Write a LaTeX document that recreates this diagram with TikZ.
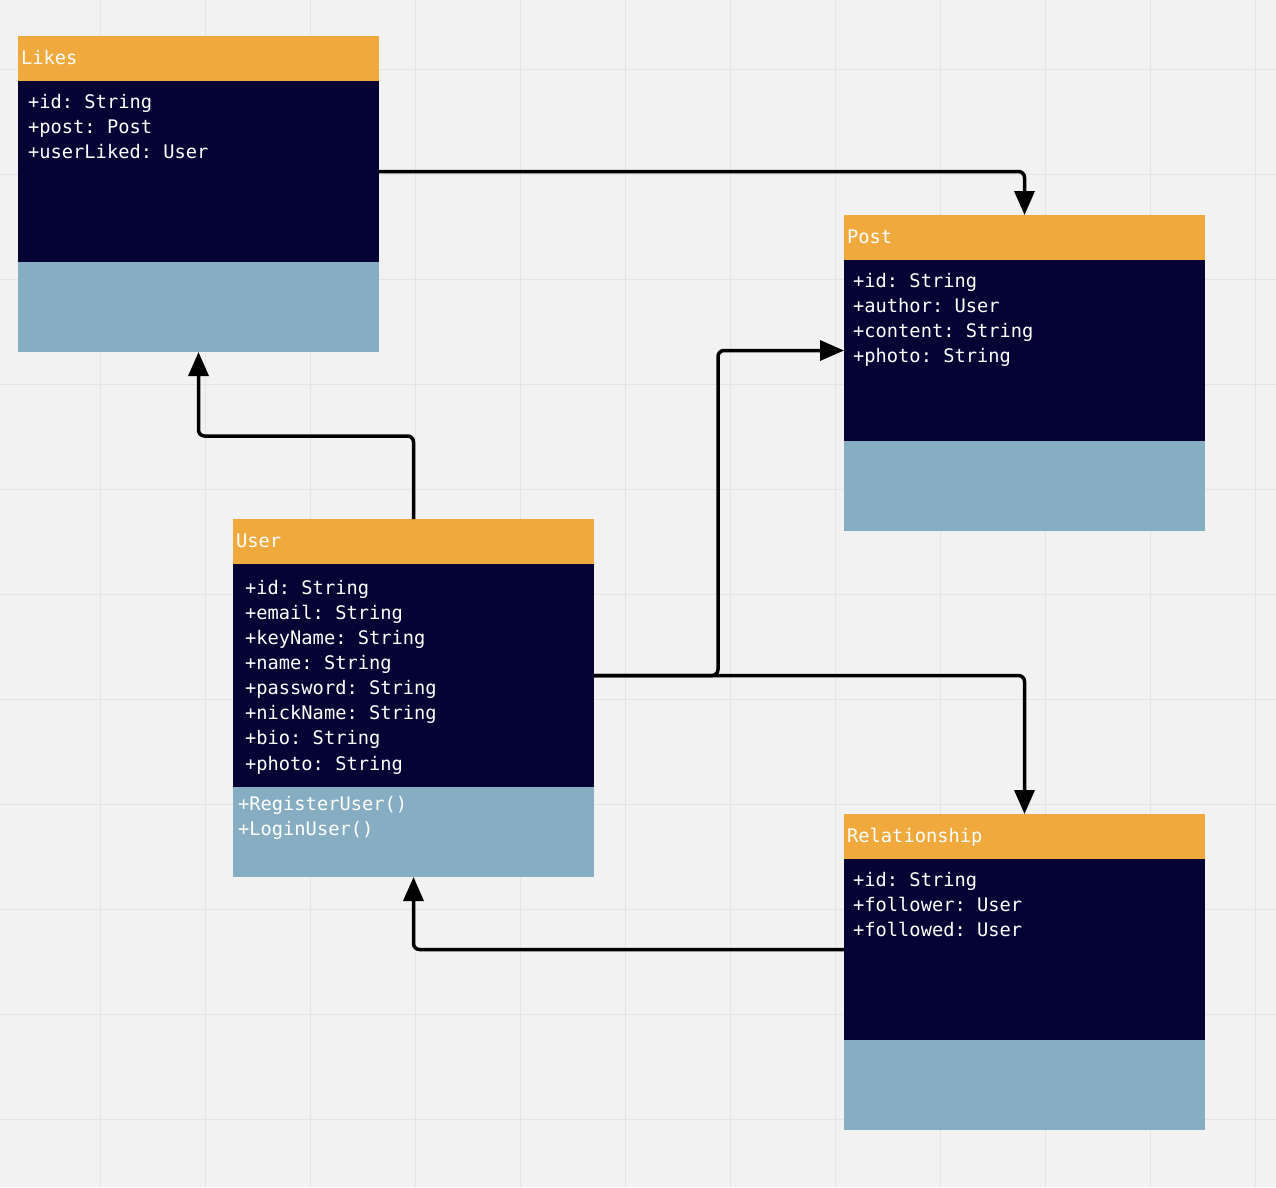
\documentclass[tikz,border=0pt]{standalone}
\usepackage{fontspec}
\setmonofont{DejaVu Sans Mono}
\usetikzlibrary{arrows.meta}
\definecolor{canvas}{HTML}{F2F2F2}
\definecolor{gridc}{HTML}{E4E4E4}
\definecolor{hdrc}{HTML}{EFA93D}
\definecolor{bodyc}{HTML}{050333}
\definecolor{opsc}{HTML}{87ADC2}
\begin{document}
\begin{tikzpicture}[x=1pt,y=-1pt,
  part/.style={anchor=north west, inner sep=0pt, outer sep=0pt, minimum width=361pt},
  hdr/.style={part, fill=hdrc, minimum height=45pt},
  attrs/.style={part, fill=bodyc, minimum height=181pt},
  ops/.style={part, fill=opsc, minimum height=90pt},
  txt/.style={anchor=base west, inner sep=0pt, text=white, font=\ttfamily\fontsize{18.7}{25}\selectfont},
  conn/.style={draw=black, line width=3.5pt, rounded corners=6pt, -{Triangle[length=24pt,width=20pt]}}
]
% canvas and grid
\useasboundingbox (0,0) rectangle (1276,1187);
\fill[canvas] (0,0) rectangle (1276,1187);
\foreach \gx in {100.5,205.5,...,1270} \draw[gridc, line width=1pt] (\gx,0) -- (\gx,1187);
\foreach \gy in {69,174,...,1180} \draw[gridc, line width=1pt] (0,\gy) -- (1276,\gy);

% Likes
\node[hdr] (likesH) at (18,36) {};
\node[attrs] (likesB) at (18,81) {};
\node[ops] (likesM) at (18,262) {};
\node[txt] (likesT) at (21,64) {Likes};
\foreach \t [count=\i] in {+id: String, +post: Post, +userLiked: User}
  \node[txt] (likesF\i) at (28,{108+25.3*(\i-1)}) {\t};

% Post
\node[hdr] (postH) at (844,215) {};
\node[attrs] (postB) at (844,260) {};
\node[ops] (postM) at (844,441) {};
\node[txt] (postT) at (847,243) {Post};
\foreach \t [count=\i] in {+id: String, +author: User, +content: String, +photo: String}
  \node[txt] (postF\i) at (853,{287+25.3*(\i-1)}) {\t};

% User
\node[hdr] (userH) at (233,519) {};
\node[attrs, minimum height=223pt] (userB) at (233,564) {};
\node[ops] (userM) at (233,787) {};
\node[txt] (userT) at (236,547) {User};
\foreach \t [count=\i] in {+id: String, +email: String, +keyName: String, +name: String, +password: String, +nickName: String, +bio: String, +photo: String}
  \node[txt] (userF\i) at (245,{594+25.15*(\i-1)}) {\t};
\foreach \t [count=\i] in {+RegisterUser(), +LoginUser()}
  \node[txt] (userO\i) at (238,{810+25.15*(\i-1)}) {\t};

% Relationship
\node[hdr] (relH) at (844,814) {};
\node[attrs] (relB) at (844,859) {};
\node[ops] (relM) at (844,1040) {};
\node[txt] (relT) at (847,842) {Relationship};
\foreach \t [count=\i] in {+id: String, +follower: User, +followed: User}
  \node[txt] (relF\i) at (853,{886+25.3*(\i-1)}) {\t};

% associations
\draw[conn] (likesB.east) -| (postH.north);
\draw[conn] (userH.north) -- ++(0,-83) -| (likesM.south);
\draw[conn] (userB.east) -- ++(124,0) |- (postB.west);
\draw[conn] (userB.east) -| (relH.north);
\draw[conn] (relB.west) -| (userM.south);
\end{tikzpicture}
\end{document}
